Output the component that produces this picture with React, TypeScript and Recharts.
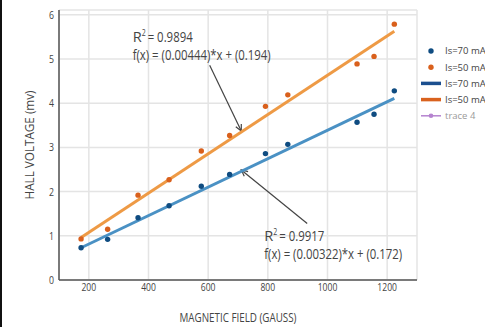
import { ScatterChart, Scatter, XAxis, YAxis, CartesianGrid, ReferenceLine } from 'recharts'

const fieldGauss = [174, 263, 365, 469, 577, 672, 792, 867, 1099, 1156, 1224]
const hall70 = [0.73, 0.92, 1.41, 1.68, 2.12, 2.39, 2.86, 3.07, 3.57, 3.75, 4.28]
const hall50 = [0.93, 1.15, 1.92, 2.27, 2.92, 3.27, 3.93, 4.19, 4.89, 5.06, 5.79]
const fitField = [174, 1224]
const fit70 = [0.73, 4.11]
const fit50 = [0.96, 5.63]
const xTicks = [200, 400, 600, 800, 1000, 1200]
const yTicks = [0, 1, 2, 3, 4, 5, 6]

const FONT = "'Open Sans', sans-serif"
const TXT = '#444'

const pts70 = fieldGauss.map((x, i) => ({ x, y: hall70[i] }))
const pts50 = fieldGauss.map((x, i) => ({ x, y: hall50[i] }))
const line70 = fitField.map((x, i) => ({ x, y: fit70[i] }))
const line50 = fitField.map((x, i) => ({ x, y: fit50[i] }))

const dot = (color: string) => (p: any) => <circle cx={p.cx} cy={p.cy} r={2.7} fill={color} />
const noDot = () => <g />

// the source font is a condensed one, so squeeze text to its measured width
function Narrow({ x, y, w, size, children, anchor = 'start', dy, fill = TXT, rotate }: any) {
  return (
    <text x={x} y={y} dy={dy} fill={fill} fontSize={size} fontFamily={FONT} textAnchor={anchor}
      textLength={w} lengthAdjust={w ? 'spacingAndGlyphs' : undefined}
      transform={rotate ? `rotate(${rotate} ${x} ${y})` : undefined}>
      {children}
    </text>
  )
}

const XTick = (p: any) => {
  const s = String(p.payload.value)
  return <Narrow x={p.x} y={p.y} dy="0.71em" w={s.length * 4.9} size={11} anchor="middle">{s}</Narrow>
}
const YTick = (p: any) => {
  const s = String(p.payload.value)
  return <Narrow x={p.x} y={p.y} dy="0.36em" w={s.length * 5} size={11} anchor="end">{s}</Narrow>
}

// arrow with its text block, text placed relative to the tail
function arrow(r2: string, eq: string, dx: number, dy: number) {
  return (p: any) => {
    const { x1, y1, x2, y2 } = p
    const a = Math.atan2(y2 - y1, x2 - x1)
    const len = 7
    const w1 = [x2 - len * Math.cos(a - 0.45), y2 - len * Math.sin(a - 0.45)]
    const w2 = [x2 - len * Math.cos(a + 0.45), y2 - len * Math.sin(a + 0.45)]
    return (
      <g>
        <line x1={x1} y1={y1} x2={x2} y2={y2} stroke="#444" strokeWidth={1.2} />
        <polyline points={`${w1[0]},${w1[1]} ${x2},${y2} ${w2[0]},${w2[1]}`}
          fill="none" stroke="#444" strokeWidth={1.2} />
        <Narrow x={x1 + dx} y={y1 + dy} w={9} size={14}>R</Narrow>
        <Narrow x={x1 + dx + 9} y={y1 + dy - 6} w={4} size={9}>2</Narrow>
        <Narrow x={x1 + dx + 15} y={y1 + dy} w={45} size={14}>{`= ${r2}`}</Narrow>
        <Narrow x={x1 + dx} y={y1 + dy + 18} w={138} size={14}>{eq}</Narrow>
      </g>
    )
  }
}

const legendRows = [
  { label: 'Is=70 mA', kind: 'dot', color: '#0F4C81' },
  { label: 'Is=50 mA', kind: 'dot', color: '#D9601C' },
  { label: 'Is=70 mA', kind: 'line', color: '#1B4F8F' },
  { label: 'Is=50 mA', kind: 'line', color: '#D9621E' },
  { label: 'trace 4', kind: 'trace', color: '#B583CF' },
]

function Overlay() {
  return (
    <svg width={485} height={327} style={{ position: 'absolute', left: 0, top: 0 }}>
      <Narrow x={238} y={318} dy="0.36em" w={117} size={12} anchor="middle">MAGNETIC FIELD (GAUSS)</Narrow>
      <Narrow x={30} y={145} dy="0.36em" w={109} size={12} anchor="middle" rotate={-90}>HALL VOLTAGE (mv)</Narrow>
      {legendRows.map((r, i) => {
        const cy = 51 + i * 16.2
        return (
          <g key={i}>
            {r.kind === 'dot' && <circle cx={431} cy={cy} r={2.7} fill={r.color} />}
            {r.kind === 'line' && <line x1={421} y1={cy} x2={441} y2={cy} stroke={r.color} strokeWidth={3.5} />}
            {r.kind === 'trace' && (
              <g>
                <line x1={421} y1={cy} x2={441} y2={cy} stroke={r.color} strokeWidth={1.5} />
                <circle cx={431} cy={cy} r={2.3} fill={r.color} />
              </g>
            )}
            <Narrow x={445} y={cy} dy="0.36em" size={9.5}
              fill={r.kind === 'trace' ? '#9a9a9a' : TXT}>{r.label}</Narrow>
          </g>
        )
      })}
    </svg>
  )
}

export default function App() {
  return (
    <div style={{ position: 'absolute', left: 0, top: 0, width: 485, height: 327, overflow: 'hidden',
      background: '#fff' }}>
      <ScatterChart width={485} height={327} margin={{ top: 10, right: 68, bottom: 2, left: 19 }}>
        <CartesianGrid stroke="#E4E4E4" strokeWidth={1.5} />
        <XAxis type="number" dataKey="x" domain={[100, 1300]} ticks={xTicks} allowDataOverflow
          height={45} axisLine={{ stroke: '#555', strokeWidth: 1.5 }} tickLine={false}
          tickSize={0} tickMargin={3} tick={XTick} />
        <YAxis type="number" dataKey="y" domain={[0, 6.11]} ticks={yTicks} allowDataOverflow
          width={40} axisLine={{ stroke: '#555', strokeWidth: 1.5 }} tickLine={false}
          tickSize={0} tickMargin={5} tick={YTick} />
        <Scatter data={line70} line={{ stroke: '#4A91C4', strokeWidth: 3 }} lineType="joint"
          shape={noDot} isAnimationActive={false} />
        <Scatter data={line50} line={{ stroke: '#EE9A45', strokeWidth: 3 }} lineType="joint"
          shape={noDot} isAnimationActive={false} />
        <Scatter data={pts70} shape={dot('#0F4C81')} isAnimationActive={false} />
        <Scatter data={pts50} shape={dot('#D9601C')} isAnimationActive={false} />
        <ReferenceLine segment={[{ x: 605, y: 4.86 }, { x: 711, y: 3.37 }]}
          shape={arrow('0.9894', 'f(x) = (0.00444)*x + (0.194)', -77, -23)} />
        <ReferenceLine segment={[{ x: 932, y: 1.28 }, { x: 711, y: 2.49 }]}
          shape={arrow('0.9917', 'f(x) = (0.00322)*x + (0.172)', -43, 18)} />
      </ScatterChart>
      <Overlay />
      <div style={{ position: 'absolute', left: 0, top: 0, width: 2, height: 327, background: '#111' }} />
    </div>
  )
}
